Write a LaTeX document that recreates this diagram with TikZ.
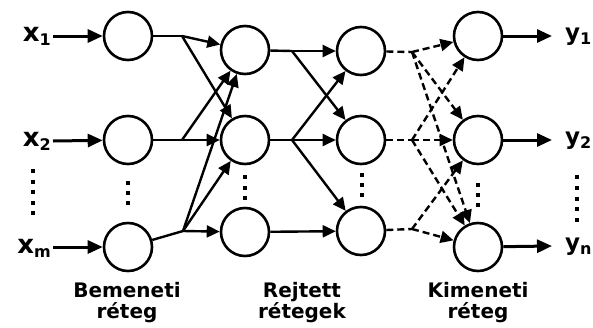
\documentclass[tikz,border=0pt]{standalone}
\usepackage{fontspec}
\setmainfont{DejaVu Sans}
\usetikzlibrary{arrows.meta}
\newcommand\mysub[1]{\raisebox{-4pt}{\fontsize{16}{16}\selectfont #1}}
\begin{document}
\begin{tikzpicture}[x=1pt,y=-1pt,
  neuron/.style={circle,draw,line width=2.6pt,minimum size=48pt,inner sep=0pt},
  conn/.style={line width=2.4pt,line join=round,-{Triangle[length=13pt,width=12pt]}},
  plain/.style={line width=2.4pt},
  dconn/.style={conn,dash pattern=on 7pt off 4pt},
  dplain/.style={plain,dash pattern=on 7pt off 4pt},
  ioarrow/.style={line width=3pt,-{Triangle[length=15pt,width=13pt]}},
  inlbl/.style={font=\bfseries\fontsize{26}{26}\selectfont,inner sep=0pt,anchor=base east},
  outlbl/.style={font=\bfseries\fontsize{23}{23}\selectfont,inner sep=0pt,anchor=base west},
  layer/.style={font=\bfseries\fontsize{20}{21}\selectfont,align=center,inner sep=0pt,anchor=north},
  dotmark/.style={fill=black}
]
\useasboundingbox (0,0) rectangle (593,327);

% neurons
\node[neuron] (in1) at (128,36) {};
\node[neuron] (in2) at (128,140) {};
\node[neuron] (in3) at (128,247) {};
\node[neuron] (h1) at (245,50) {};
\node[neuron] (h2) at (245,140) {};
\node[neuron] (h3) at (245,232) {};
\node[neuron] (g1) at (361,51) {};
\node[neuron] (g2) at (361,140) {};
\node[neuron] (g3) at (361,231) {};
\node[neuron] (o1) at (478,36) {};
\node[neuron] (o2) at (478,140) {};
\node[neuron] (o3) at (478,247) {};

% input labels and arrows
\node[inlbl] (lx1) at (51,41) {x\mysub{1}};
\node[inlbl] (lx2) at (51,146) {x\mysub{2}};
\node[inlbl] (lx3) at (51,253) {x\mysub{m}};
\coordinate (s1) at (53,36);
\coordinate (s2) at (53,141);
\coordinate (s3) at (53,247);
\draw[ioarrow] (s1) -- (in1);
\draw[ioarrow] (s2) -- (in2);
\draw[ioarrow] (s3) -- (in3);

% output labels and arrows
\node[outlbl] (ly1) at (565,40) {y\mysub{1}};
\node[outlbl] (ly2) at (565,144) {y\mysub{2}};
\node[outlbl] (ly3) at (565,250) {y\mysub{n}};
\coordinate (t1) at (552,36);
\coordinate (t2) at (552,140);
\coordinate (t3) at (552,246);
\draw[ioarrow] (o1) -- (t1);
\draw[ioarrow] (o2) -- (t2);
\draw[ioarrow] (o3) -- (t3);

% input -> hidden 1
\coordinate (B1) at (182,36);
\coordinate (B2) at (182,140);
\coordinate (B3) at (183,231);
\draw[plain] (in1) -- (B1);
\draw[plain] (in2) -- (B2);
\draw[plain] (in3) -- (B3);
\draw[conn] (B1) -- (h1);
\draw[conn] (B1) -- (h2);
\draw[conn] (B2) -- (h1);
\draw[conn] (B2) -- (h2);
\draw[conn] (B3) -- (h1);
\draw[conn] (B3) -- (h2);
\draw[conn] (B3) -- (h3);

% hidden 1 -> hidden 2
\coordinate (C1) at (292,51);
\coordinate (C2) at (292,140);
\draw[plain] (h1) -- (C1);
\draw[plain] (h2) -- (C2);
\draw[conn] (C1) -- (g1);
\draw[conn] (C1) -- (g2);
\draw[conn] (C2) -- (g1);
\draw[conn] (C2) -- (g2);
\draw[conn] (C2) -- (g3);
\draw[conn] (h3) -- (g3);

% hidden 2 -> output (dashed)
\coordinate (D1) at (412,52);
\coordinate (D2) at (412,140);
\coordinate (D3) at (412,229);
\draw[dplain] (g1) -- (D1);
\draw[dplain] (g2) -- (D2);
\draw[dplain] (g3) -- (D3);
\draw[dconn] (D1) -- (o1);
\draw[dconn] (D1) -- (o2);
\draw[dconn] (D1) -- (o3);
\draw[dconn] (D2) -- (o1);
\draw[dconn] (D2) -- (o2);
\draw[dconn] (D2) -- (o3);
\draw[dconn] (D3) -- (o2);
\draw[dconn] (D3) -- (o3);

% vertical dots
\foreach \i in {0,...,4} {
  \fill[dotmark] (33-2,171+10.5*\i-2) rectangle ++(4,4);
  \fill[dotmark] (577-2,177+10.75*\i-2) rectangle ++(4,4);
}
\foreach \i in {0,1,2} {
  \fill[dotmark] (128-2,183+10*\i-2) rectangle ++(4,4);
  \fill[dotmark] (245-2,177+10.5*\i-2) rectangle ++(4,4);
  \fill[dotmark] (362-2,175+10*\i-2) rectangle ++(4,4);
  \fill[dotmark] (478-2,185+10*\i-2) rectangle ++(4,4);
}

% layer labels
\node[layer] (lab1) at (127,282) {Bemeneti\\réteg};
\node[layer] (lab2) at (302,282) {Rejtett\\rétegek};
\node[layer] (lab3) at (478,282) {Kimeneti\\réteg};
\end{tikzpicture}
\end{document}
